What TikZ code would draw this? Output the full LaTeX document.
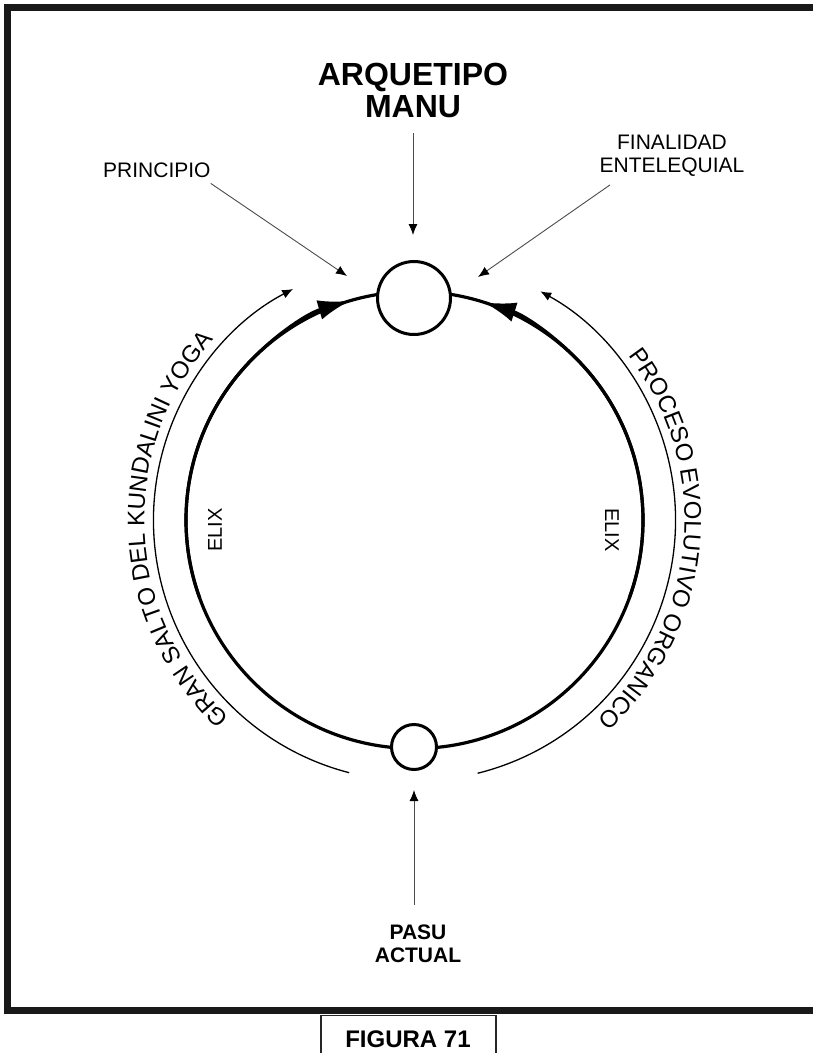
\documentclass[tikz,border=0pt]{standalone}
\usepackage{fontspec}
\setmainfont{Liberation Sans}
\usetikzlibrary{arrows.meta,decorations.text}
\begin{document}
\begin{tikzpicture}[x=1pt,y=1pt,
  ring/.style={line width=3.2pt},
  smallcirc/.style={circle, draw, line width=3pt, fill=white, inner sep=0pt},
  thinarrow/.style={draw=black!70, line width=0.9pt, -{Latex[length=11pt,width=9pt,color=black]}},
  outerarc/.style={line width=1.3pt, -{Latex[length=11pt,width=9pt]}},
  bigtip/.style={-{Latex[length=32pt,width=20pt]}},
  lab/.style={font=\fontsize{21}{23}\selectfont, inner sep=0pt},
  elix/.style={font=\fontsize{20}{20}\selectfont, inner sep=0pt},
  blab/.style={font=\bfseries\fontsize{21}{23}\selectfont, inner sep=0pt, align=center},
]
\useasboundingbox (0,0) rectangle (812,-1053);
\fill[white] (0,0) rectangle (812,-1053);
% frame
\draw[line width=7pt, color=black!90] (830,-7.5) -- (7.5,-7.5) -- (7.5,-1010) -- (830,-1010);
% figure label box
\draw[line width=1.5pt, color=black!85] (321,-1070) -- (321,-1015.5) -- (496,-1015.5) -- (496,-1070);
\node[font=\bfseries\fontsize{24}{24}\selectfont, inner sep=0pt, anchor=base] (figlabel) at (408,-1047) {FIGURA 71};

\coordinate (C) at (414.5,-520);
% main ring
\draw[ring] (C) circle[radius=228.5];
\draw[ring, bigtip] ([shift={(200:228.5)}]C) arc[start angle=200, end angle=106.4, radius=228.5];
\draw[ring, bigtip] ([shift={(-20:228.5)}]C) arc[start angle=-20, end angle=72.3, radius=228.5];
% small circles
\node[smallcirc, minimum size=73pt] (top) at (414,-298) {};
\node[smallcirc, minimum size=45pt] (bot) at (414,-747) {};

% outer arcs
\draw[outerarc] ([shift={(255.5:261)}]C) arc[start angle=255.5, end angle=117.7, radius=261];
\draw[outerarc] ([shift={(-76:261)}]C) arc[start angle=-76, end angle=61.2, radius=261];

% curved texts
\path[decorate, decoration={text along path, text align=center,
  text={|\fontsize{24}{24}\selectfont|GRAN SALTO DEL KUNDALINI YOGA}}]
  ([shift={(252.5:270)}]C) arc[start angle=252.5, end angle=112.5, radius=270];
\path[decorate, decoration={text along path, text align=center,
  text={|\fontsize{24}{24}\selectfont|PROCESO EVOLUTIVO ORGANICO}}]
  ([shift={(65:270)}]C) arc[start angle=65, end angle=-75, radius=270];

% ELIX labels
\node[elix, rotate=90] (elixl) at (215,-530) {ELIX};
\node[elix, rotate=-90] (elixr) at (612,-530) {ELIX};

% top labels
\node[font=\bfseries\fontsize{32}{32}\selectfont, align=center, inner sep=0pt] (arq) at (413,-90.5) {ARQUETIPO\\MANU};
\coordinate (arqtip) at (413,-235);
\draw[thinarrow, shorten <=15pt] (arq.south) -- (arqtip);

\node[lab, anchor=base west] (prin) at (103,-177) {PRINCIPIO};
\coordinate (printip) at (347,-276);
\draw[thinarrow] ([yshift=-6pt]prin.south east) -- (printip);

\node[lab, align=center] (fin) at (672,-156) {FINALIDAD\\ENTELEQUIAL};
\coordinate (fintip) at (478,-277);
\draw[thinarrow] ([shift={(-62pt,-8pt)}]fin.south) -- (fintip);

% bottom label
\node[blab] (pasu) at (418,-944) {PASU\\ACTUAL};
\coordinate (pasutip) at (414,-790);
\draw[thinarrow] ([shift={(-4pt,20pt)}]pasu.north) -- (pasutip);
\end{tikzpicture}
\end{document}
